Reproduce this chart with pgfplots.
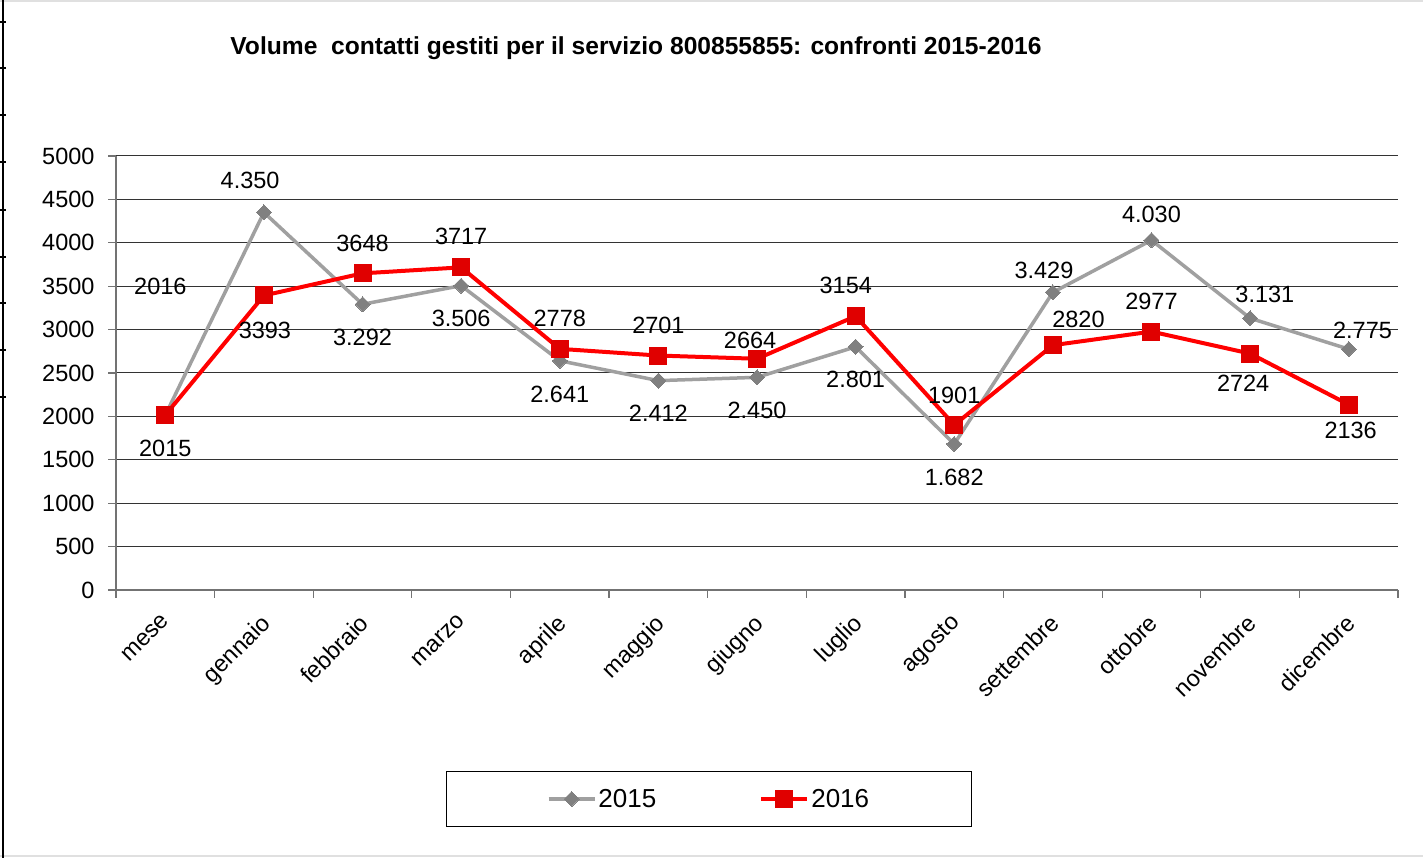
\documentclass[border=0pt]{standalone}
\usepackage{fontspec}
\setmainfont{Liberation Sans}
\usepackage{pgfplots}
\pgfplotsset{compat=1.18}
\definecolor{cGrayLine}{RGB}{160,160,160}
\definecolor{cGrayMark}{RGB}{128,128,128}
\definecolor{cRedLine}{RGB}{255,0,0}
\definecolor{cRedMark}{RGB}{224,0,0}
\newcommand{\lbl}{\fontsize{23.5}{28}\selectfont}
\tikzset{dl/.style={font=\lbl, inner sep=0pt, anchor=center, text=black}}

\begin{document}
\begin{tikzpicture}
\path[use as bounding box, fill=white] (0,0) rectangle (1423pt,858pt);
% page frame remnants
\draw[black!12, line width=1.5pt] (0,857pt) -- (1423pt,857pt);
\draw[black!12, line width=2pt] (0,1.5pt) -- (1423pt,1.5pt);
\draw[black, line width=1.5pt] (3pt,0) -- (3pt,858pt);
\foreach \yy in {22,68,115,162,210,257,303,350,397}
  \draw[black, line width=1.5pt] (0,{(858-\yy)*1pt}) -- (6pt,{(858-\yy)*1pt});

\node[font=\bfseries\fontsize{24.6}{28}\selectfont] at (636pt,810pt)
  {Volume\ \ contatti gestiti per il servizio 800855855: confronti 2015-2016};

\begin{axis}[
  at={(116pt,268pt)}, anchor=south west,
  width=1282pt, height=434pt, scale only axis,
  xmin=-0.5, xmax=12.5, ymin=0, ymax=5000,
  axis x line*=bottom, axis y line*=left,
  axis line style={black!55, line width=1.2pt},
  ytick={0,500,...,5000},
  xtick={0,...,12},
  xticklabels={mese,gennaio,febbraio,marzo,aprile,maggio,giugno,luglio,agosto,settembre,ottobre,novembre,dicembre},
  minor xtick={-0.5,0.5,...,12.5},
  tick align=outside,
  major tick length=8pt, minor tick length=8pt,
  tick style={black!55, line width=1.2pt},
  major x tick style={draw=none},
  ymajorgrids, major grid style={black!80, line width=1pt},
  tick label style={font=\lbl},
  x tick label style={rotate=45, anchor=north east, inner sep=0pt, xshift=-13.4pt, yshift=-7.2pt},
  y tick label style={xshift=-10pt, /pgf/number format/.cd, 1000 sep={}, assume math mode=true},
  legend columns=2,
  legend style={at={(0.4626,-0.4816)}, anchor=center, draw=black, line width=1pt,
    font=\fontsize{26}{30}\selectfont, inner xsep=100pt, inner ysep=15.5pt,
    nodes={inner sep=2pt},
    /tikz/every even column/.append style={column sep=101pt}},
  legend image code/.code={\draw[#1, mark repeat=2, mark phase=2]
    plot coordinates {(0pt,0pt) (23pt,0pt) (46pt,0pt)};},
  clip=false,
]
% 2015
\addplot[cGrayLine, line width=3.5pt, mark=square*, mark size=5.3pt,
  mark options={rotate=45, fill=cGrayMark, draw=cGrayMark, line width=0pt}]
  coordinates {(0,2015) (1,4350) (2,3292) (3,3506) (4,2641) (5,2412) (6,2450)
               (7,2801) (8,1682) (9,3429) (10,4030) (11,3131) (12,2775)};
\addlegendentry{2015}
% 2016
\addplot[cRedLine, line width=4pt, mark=square*, mark size=8.5pt,
  mark options={fill=cRedMark, draw=cRedMark, line width=0pt}]
  coordinates {(0,2016) (1,3393) (2,3648) (3,3717) (4,2778) (5,2701) (6,2664)
               (7,3154) (8,1901) (9,2820) (10,2977) (11,2724) (12,2136)};
\addlegendentry{2016}

% data labels 2015
\node[dl] at (axis cs:0,1636) {2015};
\node[dl] at (axis cs:0.86,4724) {4.350};
\node[dl] at (axis cs:2,2915) {3.292};
\node[dl] at (axis cs:3,3134) {3.506};
\node[dl] at (axis cs:4,2258) {2.641};
\node[dl] at (axis cs:5,2039) {2.412};
\node[dl] at (axis cs:6,2074) {2.450};
\node[dl] at (axis cs:7,2431) {2.801};
\node[dl] at (axis cs:8,1302) {1.682};
\node[dl] at (axis cs:8.91,3687) {3.429};
\node[dl] at (axis cs:10,4332) {4.030};
\node[dl] at (axis cs:11.15,3410) {3.131};
\node[dl] at (axis cs:12.14,2995) {2.775};
% data labels 2016
\node[dl] at (axis cs:-0.05,3502) {2016};
\node[dl] at (axis cs:1.01,2995) {3393};
\node[dl] at (axis cs:2,3998) {3648};
\node[dl] at (axis cs:3,4078) {3717};
\node[dl] at (axis cs:4,3134) {2778};
\node[dl] at (axis cs:5,3053) {2701};
\node[dl] at (axis cs:5.93,2880) {2664};
\node[dl] at (axis cs:6.9,3514) {3154};
\node[dl] at (axis cs:8,2247) {1901};
\node[dl] at (axis cs:9.26,3122) {2820};
\node[dl] at (axis cs:10,3329) {2977};
\node[dl] at (axis cs:10.93,2385) {2724};
\node[dl] at (axis cs:12.02,1843) {2136};
\end{axis}
\end{tikzpicture}
\end{document}
